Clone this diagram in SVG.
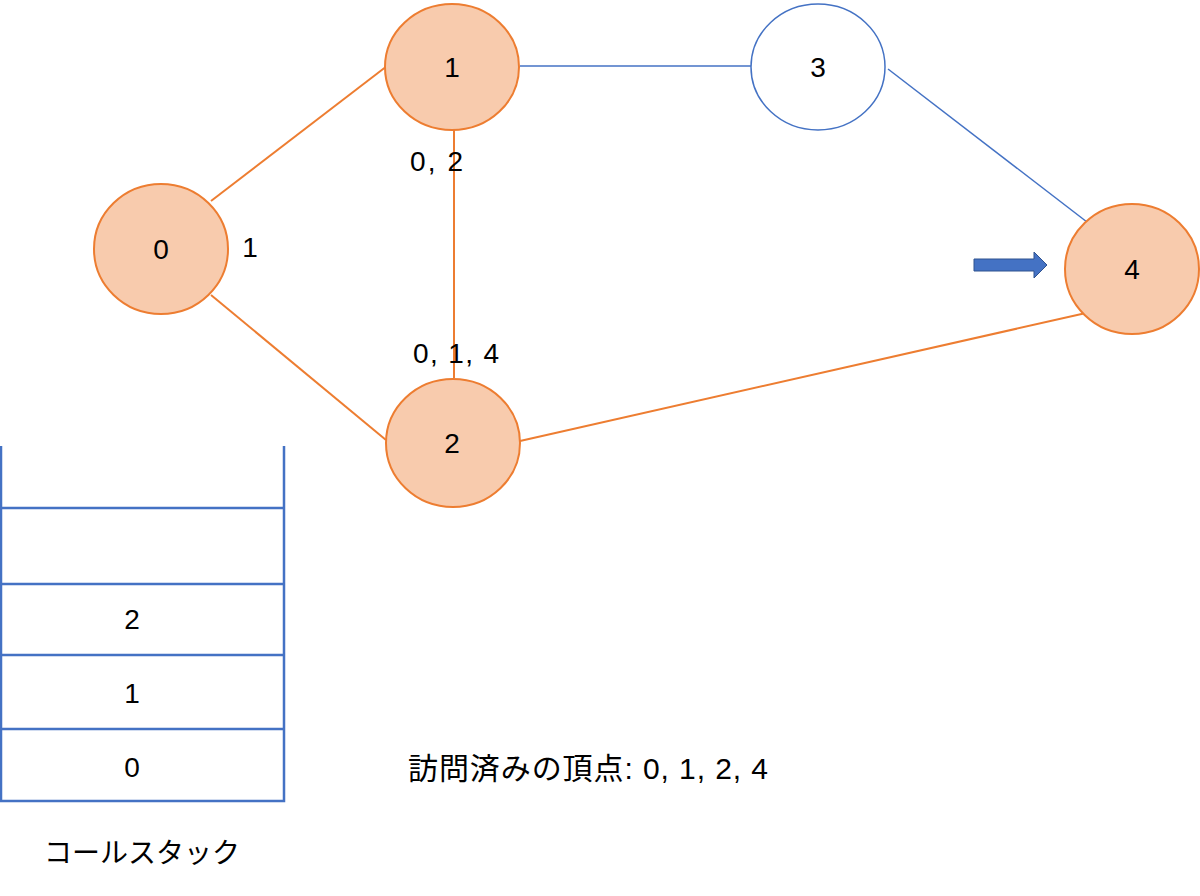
<svg xmlns="http://www.w3.org/2000/svg" width="1200" height="896" viewBox="0 0 1200 896">
<style>
.t{font-family:"Liberation Sans","Noto Sans CJK JP",sans-serif;font-size:28px;fill:#000}
.m{text-anchor:middle}
.done{fill:#F8CBAD;stroke:#ED7D31;stroke-width:2}
.open{fill:#fff;stroke:#4472C4;stroke-width:1.5}
.eo{stroke:#ED7D31;stroke-width:2;fill:none}
.eb{stroke:#4472C4;stroke-width:1.5;fill:none}
.st{stroke:#4472C4;stroke-width:2.5;fill:none}
</style>
<rect width="1200" height="896" fill="#fff"/>
<g id="connectors">
<line class="eo" x1="211" y1="201" x2="387" y2="66"/>
<line class="eo" x1="211" y1="295" x2="386" y2="440"/>
<line class="eo" x1="454" y1="130" x2="454" y2="378"/>
<line class="eb" x1="520" y1="66" x2="751" y2="66"/>
<line class="eb" x1="888" y1="69" x2="1087" y2="222"/>
<line class="eo" x1="520" y1="441" x2="1086" y2="313"/>
</g>
<g id="node0"><ellipse class="done" cx="161" cy="249" rx="67" ry="65"/><text class="t m" x="161" y="259">0</text></g>
<g id="node1"><ellipse class="done" cx="452" cy="67" rx="67" ry="63"/><text class="t m" x="452" y="77">1</text></g>
<g id="node2"><ellipse class="done" cx="453" cy="443" rx="67" ry="64"/><text class="t m" x="452" y="453">2</text></g>
<g id="node3"><ellipse class="open" cx="818" cy="67" rx="67" ry="63"/><text class="t m" x="818" y="77">3</text></g>
<g id="node4"><ellipse class="done" cx="1132" cy="269" rx="67" ry="65"/><text class="t m" x="1132" y="279">4</text></g>
<g id="labels">
<text class="t m" x="250" y="257">1</text>
<text class="t" x="410" y="171" textLength="53" lengthAdjust="spacing">0, 2</text>
<text class="t" x="413" y="363" textLength="86" lengthAdjust="spacing">0, 1, 4</text>
</g>
<g id="pointer">
<polygon points="974,259 1034,259 1034,252 1047,265 1034,278 1034,271 974,271" fill="#4472C4" stroke="#2F528F" stroke-width="1"/>
</g>
<g id="callstack">
<polyline class="st" points="1,446 1,801 284,801 284,446"/>
<line class="st" x1="0" y1="508" x2="284" y2="508"/>
<line class="st" x1="0" y1="584" x2="284" y2="584"/>
<line class="st" x1="0" y1="655" x2="284" y2="655"/>
<line class="st" x1="0" y1="729" x2="284" y2="729"/>
<text class="t m" x="132" y="629">2</text>
<text class="t m" x="132" y="703">1</text>
<text class="t m" x="132" y="777">0</text>
<text class="t" x="44" y="863" textLength="196" lengthAdjust="spacing">コールスタック</text>
</g>
<g id="visited">
<text class="t" x="408" y="779" textLength="360" lengthAdjust="spacing" style="font-size:30px">訪問済みの頂点: 0, 1, 2, 4</text>
</g>
</svg>
